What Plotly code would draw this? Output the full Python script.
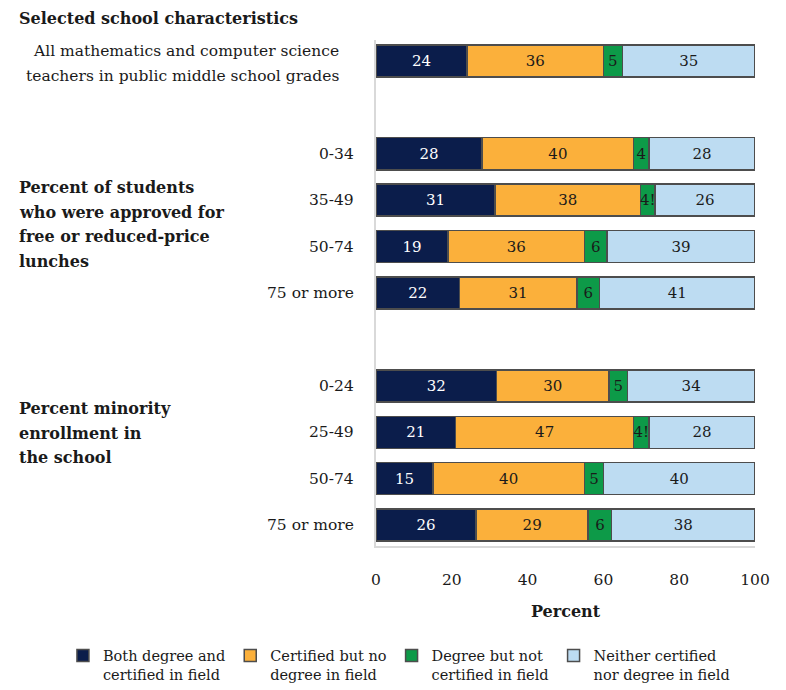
import plotly.graph_objects as go

# ---- data ----
row_labels = [
    "All mathematics and computer science<br>teachers in public middle school grades",
    "0-34", "35-49", "50-74", "75 or more",
    "0-24", "25-49", "50-74", "75 or more",
]
row_group = [0, 1, 1, 1, 1, 2, 2, 2, 2]
group_titles = [
    "",
    "Percent of students<br>who were approved for<br>free or reduced-price<br>lunches",
    "Percent minority<br>enrollment in<br>the school",
]
series_names = [
    "Both degree and<br>certified in field",
    "Certified but no<br>degree in field",
    "Degree but not<br>certified in field",
    "Neither certified<br>nor degree in field",
]
both_vals = [24, 28, 31.4, 19, 22, 31.8, 21, 15, 26.4]
cert_vals = [36, 40, 38.4, 36, 31, 29.7, 47, 40, 29.6]
deg_vals = [5, 4, 3.8, 6, 6, 4.8, 4, 5, 6.2]
neither_vals = [35, 28, 26.4, 39, 41, 33.7, 28, 40, 37.8]

both_text = ["24", "28", "31", "19", "22", "32", "21", "15", "26"]
cert_text = ["36", "40", "38", "36", "31", "30", "47", "40", "29"]
deg_text = ["5", "4", "4!", "6", "6", "5", "4!", "5", "6"]
neither_text = ["35", "28", "26", "39", "41", "34", "28", "40", "38"]

colors = ["#0b1d4b", "#fbb03b", "#0d9a48", "#bddcf2"]
text_colors = ["white", "#1a1a1a", "#1a1a1a", "#1a1a1a"]

FONT = "DejaVu Serif"
TXT = "#1a1a1a"
ROW_PX = 46.4          # pixels per row unit on the y axis
LINE_PX = 24.5         # line spacing of multi-line labels
GROUP_TITLE_OFFSET = [0.0, 0.02, -0.48]   # vertical nudge of group titles (rows)

# vertical positions: rows with one blank row between groups
ypos = [i + g for i, g in enumerate(row_group)]

fig = go.Figure()
for name, vals, txt, col, tcol in zip(
    series_names,
    [both_vals, cert_vals, deg_vals, neither_vals],
    [both_text, cert_text, deg_text, neither_text],
    colors, text_colors,
):
    fig.add_trace(go.Bar(
        x=vals, y=ypos, orientation="h", name=name,
        marker=dict(color=col, line=dict(color="#4d4d4d", width=1.5)),
        width=0.69,
        text=txt, textposition="inside", insidetextanchor="middle",
        textangle=0,
        textfont=dict(family=FONT, size=15, color=tcol),
        hoverinfo="skip",
    ))

annotations = []


def add_lines(text, xp, ycenter, anchor, size, bold=False, offset=0.0):
    lines = text.split("<br>")
    n = len(lines)
    step = LINE_PX / ROW_PX
    for k, ln in enumerate(lines):
        yy = ycenter + offset + (k - (n - 1) / 2) * step
        annotations.append(dict(
            x=xp, y=yy, xref="paper", yref="y",
            text=("<b>" + ln + "</b>") if bold else ln,
            showarrow=False, xanchor=anchor, yanchor="middle",
            font=dict(family=FONT, size=size, color=TXT),
        ))


# row labels
for i, (lab, y) in enumerate(zip(row_labels, ypos)):
    if i == 0:
        add_lines(lab, -0.093, y, "right", 15.5, offset=0.06)
    else:
        add_lines(lab, -0.052, y, "right", 15.5)
# group titles
for g, title in enumerate(group_titles):
    if not title:
        continue
    ys = [y for y, gg in zip(ypos, row_group) if gg == g]
    add_lines(title, -0.947, (min(ys) + max(ys)) / 2, "left", 16, bold=True,
              offset=GROUP_TITLE_OFFSET[g])

annotations.append(dict(
    x=-0.947, y=1.042, xref="paper", yref="paper",
    text="<b>Selected school characteristics</b>", showarrow=False,
    xanchor="left", yanchor="middle",
    font=dict(family=FONT, size=16, color=TXT),
))

fig.update_layout(
    width=786, height=690,
    margin=dict(l=376, r=31, t=40, b=144, autoexpand=False),
    paper_bgcolor="white", plot_bgcolor="white",
    barmode="stack",
    showlegend=True,
    uniformtext=dict(minsize=15, mode="show"),
    font=dict(family=FONT, size=15, color=TXT),
    annotations=annotations,
    legend=dict(
        orientation="h", xref="paper", yref="paper",
        x=-0.826, y=-0.185, xanchor="left", yanchor="top",
        valign="top",
        traceorder="normal", font=dict(family=FONT, size=14.5, color=TXT),
    ),
    xaxis=dict(
        range=[0, 100], tickvals=[0, 20, 40, 60, 80, 100],
        showgrid=False, zeroline=False, showline=True,
        linecolor="#d9d9d9", linewidth=2, ticks="",
        ticklabelstandoff=18,
        tickfont=dict(family=FONT, size=15.5, color=TXT),
        title=dict(text="<b>Percent</b>", standoff=18,
                   font=dict(family=FONT, size=16, color=TXT)),
    ),
    yaxis=dict(
        range=[10.45, -0.45], showticklabels=False, showgrid=False,
        zeroline=False, showline=True, linecolor="#d9d9d9", linewidth=2,
        ticks="",
    ),
)

fig.write_html("out.html")
